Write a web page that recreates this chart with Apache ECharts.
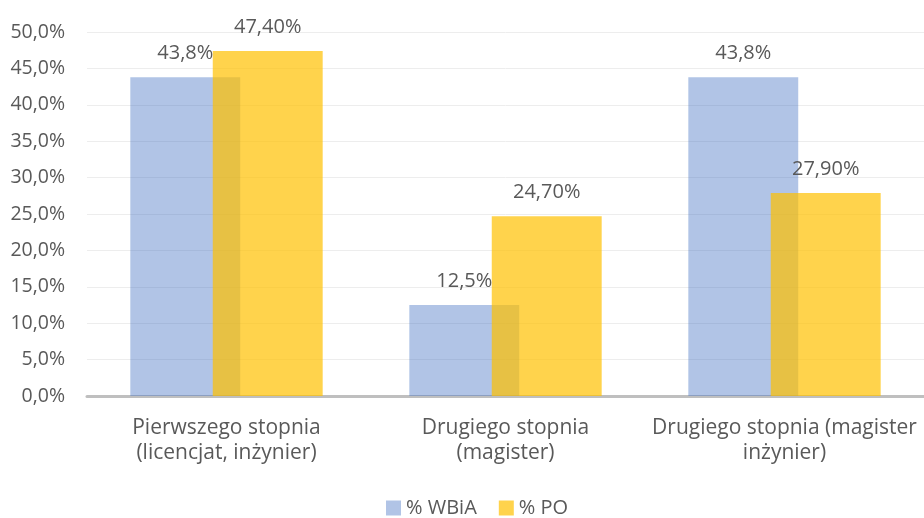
<!DOCTYPE html>
<html>
<head>
<meta charset="utf-8">
<script src="https://cdn.jsdelivr.net/npm/echarts@6/dist/echarts.min.js"></script>
<style>
  html, body { margin: 0; padding: 0; background: #fff; }
  #chart { width: 924px; height: 518px; }
</style>
</head>
<body>
<div id="chart"></div>
<script>
var categories = ['Pierwszego stopnia\n(licencjat, inżynier)', 'Drugiego stopnia\n(magister)', 'Drugiego stopnia (magister\ninżynier)'];
var wbia = [43.8, 12.5, 43.8];
var po = [47.4, 24.7, 27.9];
var seriesNames = ['% WBiA', '% PO'];

var font = '"Open Sans", "Noto Sans", sans-serif';
var txt = '#595959';

function pl(v, d) { return v.toFixed(d).replace('.', ',') + '%'; }

var chart = echarts.init(document.getElementById('chart'));
chart.setOption({
    animation: false,
    textStyle: { fontFamily: font },
    legend: {
        top: 498,
        padding: 0,
        left: 386,
        icon: 'rect',
        itemWidth: 15,
        itemHeight: 15,
        itemGap: 22,
        textStyle: { color: txt, fontSize: 20, fontFamily: font },
        data: seriesNames
    },
    grid: { left: 87, right: 0, top: 32, bottom: 122 },
    xAxis: {
        type: 'category',
        data: categories,
        axisLine: { lineStyle: { color: '#bfbfbf', width: 3 } },
        axisTick: { show: false },
        axisLabel: { color: txt, fontSize: 21, lineHeight: 25, margin: 20, interval: 0 }
    },
    yAxis: {
        type: 'value',
        min: 0,
        max: 50,
        interval: 5,
        axisLine: { show: false },
        axisTick: { show: false },
        splitLine: { lineStyle: { color: '#ededed', width: 1 } },
        axisLabel: {
            color: txt, fontSize: 19.5, margin: 22,
            formatter: function (v) { return pl(v, 1); }
        }
    },
    series: [
        {
            name: seriesNames[0],
            type: 'bar',
            data: wbia,
            barWidth: '39.4%',
            barGap: '-25%',
            itemStyle: { color: 'rgba(68,114,196,0.42)' },
            label: {
                show: true, position: 'top', color: txt, fontSize: 20, distance: 14,
                formatter: function (p) { return pl(p.value, 1); }
            }
        },
        {
            name: seriesNames[1],
            type: 'bar',
            data: po,
            barWidth: '39.4%',
            itemStyle: { color: 'rgba(255,192,0,0.7)' },
            label: {
                show: true, position: 'top', color: txt, fontSize: 20, distance: 14,
                formatter: function (p) { return pl(p.value, 2); }
            }
        }
    ]
});
</script>
</body>
</html>
